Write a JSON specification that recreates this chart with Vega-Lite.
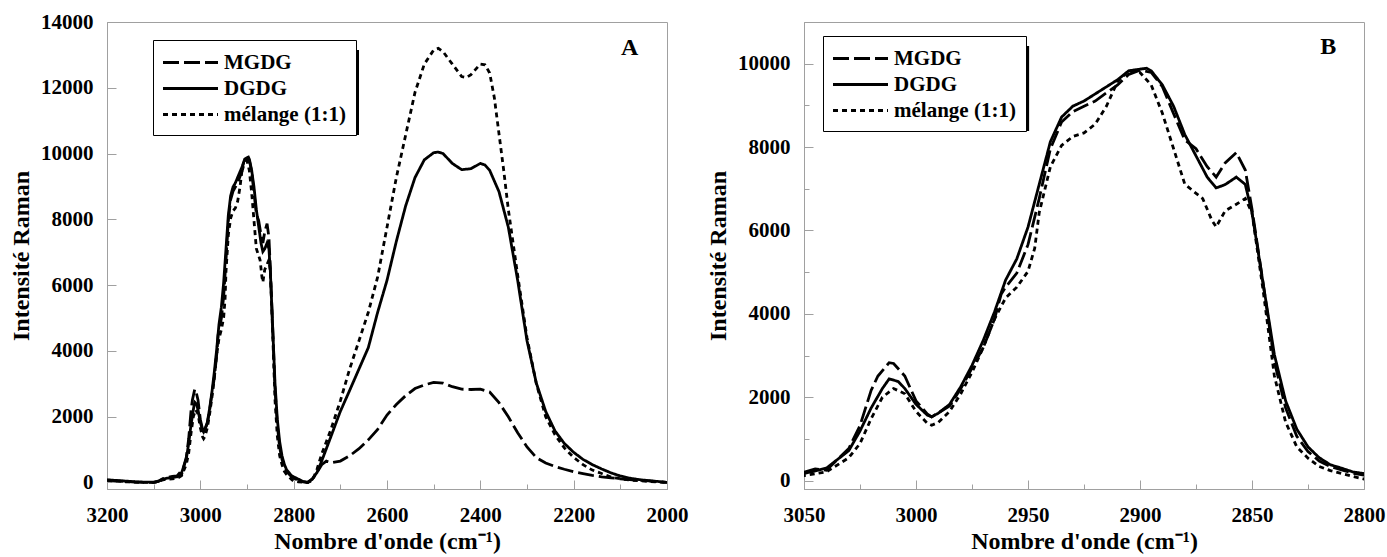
{
"$schema": "https://vega.github.io/schema/vega-lite/v6.json",
"padding": {"left": 9, "top": 10, "right": 5, "bottom": 0},
"spacing": 17,
"config": {
  "font": "Liberation Serif",
  "view": {"stroke": "#a0a0a0", "strokeWidth": 1},
  "axis": {"labelFont": "Times New Roman, Liberation Serif, serif", "labelFontWeight": "bold", "labelFontSize": 21, "labelColor": "black", "titleFont": "Times New Roman, Liberation Serif, serif", "titleFontWeight": "bold", "titleFontSize": 24, "titleColor": "black", "domainColor": "#a0a0a0", "tickColor": "#a0a0a0", "grid": false, "labelFlush": false},
  "legend": {"labelFont": "Times New Roman, Liberation Serif, serif", "labelFontWeight": "bold", "labelFontSize": 21, "labelColor": "black", "strokeColor": "black", "fillColor": "white", "padding": 10, "symbolStrokeColor": "black", "symbolStrokeWidth": 2.8, "symbolType": "M-2.5,0H2.5", "symbolSize": 484, "symbolOffset": 15, "labelOffset": 21, "rowPadding": 3}
},
"datasets": {"spectra": [
{"s":"DGDG","x":3200,"y":80},{"s":"DGDG","x":3180,"y":60},{"s":"DGDG","x":3160,"y":40},{"s":"DGDG","x":3140,"y":20},{"s":"DGDG","x":3120,"y":10},{"s":"DGDG","x":3100,"y":5},{"s":"DGDG","x":3090,"y":30},{"s":"DGDG","x":3080,"y":100},{"s":"DGDG","x":3070,"y":130},{"s":"DGDG","x":3060,"y":150},
{"s":"DGDG","x":3050,"y":170},{"s":"DGDG","x":3040,"y":300},{"s":"DGDG","x":3030,"y":720},{"s":"DGDG","x":3025,"y":1190},{"s":"DGDG","x":3020,"y":1745},{"s":"DGDG","x":3015,"y":2210},{"s":"DGDG","x":3012,"y":2440},{"s":"DGDG","x":3008,"y":2380},{"s":"DGDG","x":3005,"y":2210},{"s":"DGDG","x":3000,"y":1830},{"s":"DGDG","x":2995,"y":1575},{"s":"DGDG","x":2993,"y":1530},{"s":"DGDG","x":2990,"y":1620},{"s":"DGDG","x":2985,"y":1830},{"s":"DGDG","x":2980,"y":2255},{"s":"DGDG","x":2975,"y":2765},{"s":"DGDG","x":2970,"y":3360},{"s":"DGDG","x":2965,"y":4040},{"s":"DGDG","x":2960,"y":4810},{"s":"DGDG","x":2955,"y":5320},{"s":"DGDG","x":2950,"y":6080},{"s":"DGDG","x":2945,"y":7105},{"s":"DGDG","x":2940,"y":8130},{"s":"DGDG","x":2935,"y":8720},{"s":"DGDG","x":2930,"y":8980},{"s":"DGDG","x":2925,"y":9105},{"s":"DGDG","x":2920,"y":9275},{"s":"DGDG","x":2915,"y":9445},{"s":"DGDG","x":2910,"y":9615},{"s":"DGDG","x":2905,"y":9830},{"s":"DGDG","x":2900,"y":9870},{"s":"DGDG","x":2897,"y":9890},{"s":"DGDG","x":2895,"y":9830},{"s":"DGDG","x":2890,"y":9490},{"s":"DGDG","x":2885,"y":8980},{"s":"DGDG","x":2880,"y":8300},{"s":"DGDG","x":2875,"y":7790},{"s":"DGDG","x":2870,"y":7280},{"s":"DGDG","x":2866,"y":7020},{"s":"DGDG","x":2862,"y":7100},{"s":"DGDG","x":2857,"y":7280},{"s":"DGDG","x":2853,"y":7105},{"s":"DGDG","x":2850,"y":6425},{"s":"DGDG","x":2847,"y":5405},{"s":"DGDG","x":2845,"y":4720},{"s":"DGDG","x":2840,"y":3020},{"s":"DGDG","x":2835,"y":1915},{"s":"DGDG","x":2830,"y":1235},{"s":"DGDG","x":2825,"y":810},{"s":"DGDG","x":2820,"y":550},{"s":"DGDG","x":2815,"y":380},{"s":"DGDG","x":2810,"y":300},{"s":"DGDG","x":2805,"y":210},{"s":"DGDG","x":2800,"y":170},
{"s":"DGDG","x":2790,"y":100},{"s":"DGDG","x":2780,"y":30},{"s":"DGDG","x":2770,"y":0},{"s":"DGDG","x":2760,"y":110},{"s":"DGDG","x":2750,"y":300},{"s":"DGDG","x":2740,"y":650},{"s":"DGDG","x":2720,"y":1400},{"s":"DGDG","x":2700,"y":2160},{"s":"DGDG","x":2680,"y":2800},{"s":"DGDG","x":2660,"y":3450},{"s":"DGDG","x":2640,"y":4100},{"s":"DGDG","x":2620,"y":5175},{"s":"DGDG","x":2600,"y":6145},{"s":"DGDG","x":2580,"y":7330},{"s":"DGDG","x":2560,"y":8410},{"s":"DGDG","x":2540,"y":9270},{"s":"DGDG","x":2520,"y":9810},{"s":"DGDG","x":2500,"y":10025},{"s":"DGDG","x":2490,"y":10045},{"s":"DGDG","x":2480,"y":10000},{"s":"DGDG","x":2460,"y":9700},{"s":"DGDG","x":2440,"y":9510},{"s":"DGDG","x":2420,"y":9540},{"s":"DGDG","x":2400,"y":9700},{"s":"DGDG","x":2390,"y":9650},{"s":"DGDG","x":2380,"y":9490},{"s":"DGDG","x":2360,"y":8840},{"s":"DGDG","x":2340,"y":7760},{"s":"DGDG","x":2320,"y":6145},{"s":"DGDG","x":2300,"y":4310},{"s":"DGDG","x":2280,"y":3020},{"s":"DGDG","x":2260,"y":2160},{"s":"DGDG","x":2240,"y":1565},{"s":"DGDG","x":2220,"y":1185},{"s":"DGDG","x":2200,"y":915},{"s":"DGDG","x":2180,"y":700},{"s":"DGDG","x":2160,"y":540},{"s":"DGDG","x":2140,"y":410},{"s":"DGDG","x":2120,"y":290},{"s":"DGDG","x":2100,"y":195},{"s":"DGDG","x":2080,"y":130},{"s":"DGDG","x":2060,"y":85},{"s":"DGDG","x":2040,"y":55},{"s":"DGDG","x":2020,"y":30},{"s":"DGDG","x":2000,"y":0},
{"s":"MGDG","x":3200,"y":70},{"s":"MGDG","x":3180,"y":50},{"s":"MGDG","x":3160,"y":30},{"s":"MGDG","x":3140,"y":10},{"s":"MGDG","x":3120,"y":0},{"s":"MGDG","x":3100,"y":0},{"s":"MGDG","x":3090,"y":40},{"s":"MGDG","x":3080,"y":120},{"s":"MGDG","x":3070,"y":150},{"s":"MGDG","x":3060,"y":180},{"s":"MGDG","x":3050,"y":200},{"s":"MGDG","x":3045,"y":280},{"s":"MGDG","x":3040,"y":250},{"s":"MGDG","x":3030,"y":770},{"s":"MGDG","x":3025,"y":1320},{"s":"MGDG","x":3020,"y":2170},{"s":"MGDG","x":3017,"y":2510},{"s":"MGDG","x":3012,"y":2830},{"s":"MGDG","x":3010,"y":2810},{"s":"MGDG","x":3005,"y":2510},{"s":"MGDG","x":3000,"y":1915},{"s":"MGDG","x":2995,"y":1600},{"s":"MGDG","x":2993,"y":1530},{"s":"MGDG","x":2985,"y":1790},{"s":"MGDG","x":2980,"y":2210},{"s":"MGDG","x":2975,"y":2700},{"s":"MGDG","x":2970,"y":3190},{"s":"MGDG","x":2965,"y":3870},{"s":"MGDG","x":2962,"y":4470},{"s":"MGDG","x":2960,"y":4640},{"s":"MGDG","x":2955,"y":4980},{"s":"MGDG","x":2950,"y":5660},{"s":"MGDG","x":2945,"y":6765},{"s":"MGDG","x":2940,"y":7960},{"s":"MGDG","x":2935,"y":8600},{"s":"MGDG","x":2930,"y":8850},{"s":"MGDG","x":2925,"y":8980},{"s":"MGDG","x":2920,"y":9105},{"s":"MGDG","x":2915,"y":9300},{"s":"MGDG","x":2910,"y":9490},{"s":"MGDG","x":2905,"y":9745},{"s":"MGDG","x":2900,"y":9845},{"s":"MGDG","x":2895,"y":9790},{"s":"MGDG","x":2890,"y":9450},{"s":"MGDG","x":2885,"y":8800},{"s":"MGDG","x":2880,"y":8170},{"s":"MGDG","x":2875,"y":7960},{"s":"MGDG","x":2870,"y":7530},{"s":"MGDG","x":2866,"y":7280},{"s":"MGDG","x":2862,"y":7620},{"s":"MGDG","x":2857,"y":7870},{"s":"MGDG","x":2853,"y":7450},{"s":"MGDG","x":2850,"y":6510},{"s":"MGDG","x":2845,"y":4720},{"s":"MGDG","x":2840,"y":2850},{"s":"MGDG","x":2835,"y":1745},{"s":"MGDG","x":2830,"y":1065},{"s":"MGDG","x":2825,"y":700},{"s":"MGDG","x":2820,"y":470},{"s":"MGDG","x":2815,"y":340},{"s":"MGDG","x":2810,"y":255},{"s":"MGDG","x":2805,"y":180},{"s":"MGDG","x":2800,"y":130},
{"s":"MGDG","x":2790,"y":60},{"s":"MGDG","x":2780,"y":20},{"s":"MGDG","x":2770,"y":0},{"s":"MGDG","x":2760,"y":100},{"s":"MGDG","x":2750,"y":300},{"s":"MGDG","x":2740,"y":540},{"s":"MGDG","x":2730,"y":650},{"s":"MGDG","x":2720,"y":600},{"s":"MGDG","x":2700,"y":650},{"s":"MGDG","x":2680,"y":810},{"s":"MGDG","x":2660,"y":1025},{"s":"MGDG","x":2640,"y":1295},{"s":"MGDG","x":2620,"y":1615},{"s":"MGDG","x":2600,"y":2050},{"s":"MGDG","x":2580,"y":2370},{"s":"MGDG","x":2560,"y":2640},{"s":"MGDG","x":2540,"y":2855},{"s":"MGDG","x":2520,"y":2965},{"s":"MGDG","x":2500,"y":3040},{"s":"MGDG","x":2480,"y":3020},{"s":"MGDG","x":2460,"y":2910},{"s":"MGDG","x":2440,"y":2835},{"s":"MGDG","x":2420,"y":2825},{"s":"MGDG","x":2400,"y":2835},{"s":"MGDG","x":2380,"y":2750},{"s":"MGDG","x":2360,"y":2425},{"s":"MGDG","x":2340,"y":1995},{"s":"MGDG","x":2320,"y":1510},{"s":"MGDG","x":2300,"y":1080},{"s":"MGDG","x":2280,"y":755},{"s":"MGDG","x":2260,"y":590},{"s":"MGDG","x":2240,"y":485},{"s":"MGDG","x":2220,"y":400},{"s":"MGDG","x":2200,"y":325},{"s":"MGDG","x":2180,"y":270},{"s":"MGDG","x":2160,"y":215},{"s":"MGDG","x":2140,"y":170},{"s":"MGDG","x":2120,"y":140},{"s":"MGDG","x":2100,"y":110},{"s":"MGDG","x":2080,"y":85},{"s":"MGDG","x":2060,"y":65},{"s":"MGDG","x":2040,"y":45},{"s":"MGDG","x":2000,"y":0},
{"s":"mélange (1:1)","x":3200,"y":60},{"s":"mélange (1:1)","x":3180,"y":40},{"s":"mélange (1:1)","x":3160,"y":20},{"s":"mélange (1:1)","x":3140,"y":10},{"s":"mélange (1:1)","x":3120,"y":0},{"s":"mélange (1:1)","x":3100,"y":0},{"s":"mélange (1:1)","x":3090,"y":20},{"s":"mélange (1:1)","x":3080,"y":80},{"s":"mélange (1:1)","x":3070,"y":100},{"s":"mélange (1:1)","x":3060,"y":110},{"s":"mélange (1:1)","x":3050,"y":120},{"s":"mélange (1:1)","x":3040,"y":210},{"s":"mélange (1:1)","x":3030,"y":550},{"s":"mélange (1:1)","x":3025,"y":890},{"s":"mélange (1:1)","x":3020,"y":1490},{"s":"mélange (1:1)","x":3015,"y":2000},{"s":"mélange (1:1)","x":3010,"y":2210},{"s":"mélange (1:1)","x":3005,"y":2085},{"s":"mélange (1:1)","x":3000,"y":1660},{"s":"mélange (1:1)","x":2995,"y":1380},{"s":"mélange (1:1)","x":2993,"y":1330},{"s":"mélange (1:1)","x":2990,"y":1400},{"s":"mélange (1:1)","x":2985,"y":1660},{"s":"mélange (1:1)","x":2980,"y":2085},{"s":"mélange (1:1)","x":2975,"y":2600},{"s":"mélange (1:1)","x":2970,"y":3190},{"s":"mélange (1:1)","x":2965,"y":3870},{"s":"mélange (1:1)","x":2960,"y":4380},{"s":"mélange (1:1)","x":2955,"y":4640},{"s":"mélange (1:1)","x":2950,"y":5020},{"s":"mélange (1:1)","x":2947,"y":5575},{"s":"mélange (1:1)","x":2945,"y":6425},{"s":"mélange (1:1)","x":2940,"y":7530},{"s":"mélange (1:1)","x":2935,"y":8040},{"s":"mélange (1:1)","x":2930,"y":8255},{"s":"mélange (1:1)","x":2925,"y":8340},{"s":"mélange (1:1)","x":2920,"y":8550},{"s":"mélange (1:1)","x":2915,"y":8980},{"s":"mélange (1:1)","x":2910,"y":9575},{"s":"mélange (1:1)","x":2905,"y":9830},{"s":"mélange (1:1)","x":2900,"y":9790},{"s":"mélange (1:1)","x":2895,"y":9490},{"s":"mélange (1:1)","x":2890,"y":8810},{"s":"mélange (1:1)","x":2885,"y":7960},{"s":"mélange (1:1)","x":2880,"y":7110},{"s":"mélange (1:1)","x":2876,"y":6935},{"s":"mélange (1:1)","x":2872,"y":6765},{"s":"mélange (1:1)","x":2868,"y":6255},{"s":"mélange (1:1)","x":2866,"y":6085},{"s":"mélange (1:1)","x":2862,"y":6470},{"s":"mélange (1:1)","x":2858,"y":6595},{"s":"mélange (1:1)","x":2853,"y":6765},{"s":"mélange (1:1)","x":2850,"y":6425},{"s":"mélange (1:1)","x":2845,"y":4550},{"s":"mélange (1:1)","x":2840,"y":2510},{"s":"mélange (1:1)","x":2835,"y":1405},{"s":"mélange (1:1)","x":2830,"y":810},{"s":"mélange (1:1)","x":2825,"y":540},{"s":"mélange (1:1)","x":2820,"y":340},{"s":"mélange (1:1)","x":2815,"y":240},{"s":"mélange (1:1)","x":2810,"y":170},{"s":"mélange (1:1)","x":2805,"y":100},{"s":"mélange (1:1)","x":2800,"y":40},
{"s":"mélange (1:1)","x":2790,"y":20},{"s":"mélange (1:1)","x":2780,"y":10},{"s":"mélange (1:1)","x":2770,"y":0},{"s":"mélange (1:1)","x":2760,"y":55},{"s":"mélange (1:1)","x":2750,"y":400},{"s":"mélange (1:1)","x":2740,"y":860},{"s":"mélange (1:1)","x":2720,"y":1615},{"s":"mélange (1:1)","x":2700,"y":2480},{"s":"mélange (1:1)","x":2680,"y":3450},{"s":"mélange (1:1)","x":2660,"y":4310},{"s":"mélange (1:1)","x":2640,"y":5175},{"s":"mélange (1:1)","x":2620,"y":6250},{"s":"mélange (1:1)","x":2600,"y":7760},{"s":"mélange (1:1)","x":2580,"y":9270},{"s":"mélange (1:1)","x":2560,"y":10565},{"s":"mélange (1:1)","x":2540,"y":11860},{"s":"mélange (1:1)","x":2520,"y":12720},{"s":"mélange (1:1)","x":2500,"y":13150},{"s":"mélange (1:1)","x":2490,"y":13200},{"s":"mélange (1:1)","x":2480,"y":13100},{"s":"mélange (1:1)","x":2460,"y":12720},{"s":"mélange (1:1)","x":2440,"y":12340},{"s":"mélange (1:1)","x":2430,"y":12310},{"s":"mélange (1:1)","x":2420,"y":12400},{"s":"mélange (1:1)","x":2400,"y":12720},{"s":"mélange (1:1)","x":2390,"y":12700},{"s":"mélange (1:1)","x":2380,"y":12450},{"s":"mélange (1:1)","x":2370,"y":11700},{"s":"mélange (1:1)","x":2360,"y":10600},{"s":"mélange (1:1)","x":2350,"y":9500},{"s":"mélange (1:1)","x":2340,"y":8300},{"s":"mélange (1:1)","x":2320,"y":6300},{"s":"mélange (1:1)","x":2300,"y":4400},{"s":"mélange (1:1)","x":2280,"y":3000},{"s":"mélange (1:1)","x":2260,"y":2000},{"s":"mélange (1:1)","x":2240,"y":1450},{"s":"mélange (1:1)","x":2220,"y":1050},{"s":"mélange (1:1)","x":2200,"y":760},{"s":"mélange (1:1)","x":2180,"y":540},{"s":"mélange (1:1)","x":2160,"y":375},{"s":"mélange (1:1)","x":2140,"y":270},{"s":"mélange (1:1)","x":2120,"y":160},{"s":"mélange (1:1)","x":2100,"y":110},{"s":"mélange (1:1)","x":2080,"y":75},{"s":"mélange (1:1)","x":2060,"y":50},{"s":"mélange (1:1)","x":2040,"y":30},{"s":"mélange (1:1)","x":2000,"y":0}
]},
"hconcat": [
{
  "width": 560, "height": 467,
  "layer": [
    {"data": {"name": "spectra"},
     "mark": {"type": "line", "strokeWidth": 2.8, "color": "black", "clip": true},
     "encoding": {
       "x": {"field": "x", "type": "quantitative", "title": "Nombre d'onde (cm⁻¹)",
             "scale": {"domain": [2000, 3200], "reverse": true, "nice": false, "zero": false},
             "axis": {"values": [3200,3100,3000,2900,2800,2700,2600,2500,2400,2300,2200,2100,2000],
                      "labelExpr": "datum.value % 200 === 0 ? format(datum.value, 'd') : ''",
                      "tickSize": {"condition": {"test": "datum.value % 200 === 0", "value": -9}, "value": -5},
                      "labelPadding": 24, "titlePadding": 4}},
       "y": {"field": "y", "type": "quantitative", "title": "Intensité Raman",
             "scale": {"domain": [-200, 14000], "nice": false, "zero": false},
             "axis": {"values": [0,1000,2000,3000,4000,5000,6000,7000,8000,9000,10000,11000,12000,13000,14000],
                      "labelExpr": "datum.value % 2000 === 0 ? format(datum.value, 'd') : ''",
                      "tickSize": {"condition": {"test": "datum.value % 2000 === 0", "value": -9}, "value": -5},
                      "labelPadding": 23, "titlePadding": 7}},
       "strokeDash": {"field": "s", "type": "nominal",
             "scale": {"domain": ["MGDG", "DGDG", "mélange (1:1)"], "range": [[16, 5], [1, 0], [5, 4]]},
             "legend": {"title": null, "orient": "none", "legendX": 46, "legendY": 18}}
     }},
    {"data": {"values": [{}]},
     "mark": {"type": "rect", "color": "black"},
     "encoding": {"x": {"datum": 3080, "type": "quantitative"}, "x2": {"datum": 2660}, "y": {"datum": 13148, "type": "quantitative"}, "y2": {"datum": 10564}}},
    {"data": {"values": [{}]},
     "mark": {"type": "text", "font": "Times New Roman, Liberation Serif, serif", "fontWeight": "bold", "fontSize": 24, "color": "black"},
     "encoding": {"x": {"datum": 2080, "type": "quantitative"}, "y": {"datum": 13200, "type": "quantitative"}, "text": {"value": "A"}}}
  ]
},
{
  "width": 560, "height": 467,
  "layer": [
    {"data": {"name": "spectra"},
     "mark": {"type": "line", "strokeWidth": 2.8, "color": "black", "clip": true},
     "encoding": {
       "x": {"field": "x", "type": "quantitative", "title": "Nombre d'onde (cm⁻¹)",
             "scale": {"domain": [2800, 3050], "reverse": true, "nice": false, "zero": false},
             "axis": {"values": [3050,3025,3000,2975,2950,2925,2900,2875,2850,2825,2800],
                      "labelExpr": "datum.value % 50 === 0 ? format(datum.value, 'd') : ''",
                      "tickSize": {"condition": {"test": "datum.value % 50 === 0", "value": -9}, "value": -5},
                      "labelPadding": 24, "titlePadding": 4}},
       "y": {"field": "y", "type": "quantitative", "title": "Intensité Raman",
             "scale": {"domain": [-200, 11000], "nice": false, "zero": false},
             "axis": {"values": [0,1000,2000,3000,4000,5000,6000,7000,8000,9000,10000,11000],
                      "labelExpr": "datum.value % 2000 === 0 ? format(datum.value, 'd') : ''",
                      "tickSize": {"condition": {"test": "datum.value % 2000 === 0", "value": -9}, "value": -5},
                      "labelPadding": 23, "titlePadding": 7}},
       "strokeDash": {"field": "s", "type": "nominal",
             "scale": {"domain": ["MGDG", "DGDG", "mélange (1:1)"], "range": [[16, 5], [1, 0], [5, 4]]},
             "legend": {"title": null, "orient": "none", "legendX": 19, "legendY": 14}}
     }},
    {"data": {"values": [{}]},
     "mark": {"type": "rect", "color": "black"},
     "encoding": {"x": {"datum": 3037, "type": "quantitative"}, "x2": {"datum": 2949.5}, "y": {"datum": 10424, "type": "quantitative"}, "y2": {"datum": 8386}}},
    {"data": {"values": [{}]},
     "mark": {"type": "text", "font": "Times New Roman, Liberation Serif, serif", "fontWeight": "bold", "fontSize": 24, "color": "black"},
     "encoding": {"x": {"datum": 2816, "type": "quantitative"}, "y": {"datum": 10400, "type": "quantitative"}, "text": {"value": "B"}}}
  ]
}
],
"resolve": {"scale": {"strokeDash": "independent"}}
}
